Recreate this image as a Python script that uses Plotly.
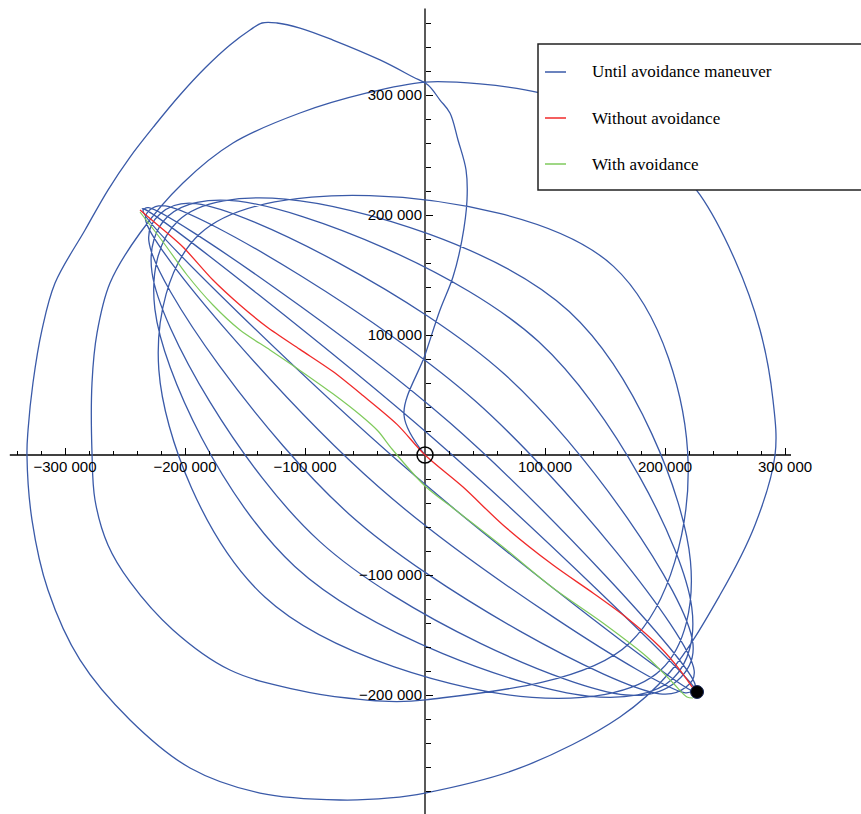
import plotly.graph_objects as go

# Relative trajectory (units as on the axes)
blue_x = [0, -17500, 0, 12500, 23300, 30800, 35000, 34200, 27500, 20800, 12500, 2500,
          -10000, -37500, -76700, -104200, -123300, -135800, -145800, -162500, -183300,
          -204200, -225000, -245800, -264200, -283300, -308300, -319200, -326700, -330800,
          -331700,
          -327500, -314200, -287500, -245800, -195800, -137500, -70800, -29200, 0, 79200,
          162500, 204200, 245800, 275000, 291700, 290000, 279200, 258300, 229200, 195800,
          145800, 95800, 45800, 0, -48300, -104200, -160000, -201700, -237500, -262500,
          -273300, -277500, -277500, -275000, -264200, -245800, -210000, -162500, -106700,
          -65000,
          500, 170400, 219300, 157100, -46100, -187800, -221800, -133500, 89200, 196700,
          221200, 120200, -116300, -205700, -225100, -108500, 136000, 206500, 222300, 94600,
          -155500, -214000, -227500, -87600, 167600, 210200, 223300, 66100, -191000, -220600,
          -230100, -63400, 195500, 217800, 224300, 41700, -216400, -229200, -232900, -39000,
          216100, 223100, 225200, 21000, -230300, -233900, -235000, -18900, 224300, 225500,
          225800, 6600, -234900, -235900]
blue_y = [0, 33300, 83300, 120800, 148300, 179200, 212500, 237500, 262500, 285000, 295800,
          308300, 315000, 329200, 345800, 355800, 360000, 360000, 354200, 341700, 322500,
          300000, 275000, 248300, 220800, 187500, 143300, 104200, 60000, 20800,
          0,
          -54200, -112500, -170800, -220800, -260800, -281700, -287500, -285800, -281700,
          -260800, -218300, -180800, -116700, -58300, 0, 45800, 104200, 162500, 216700,
          254200, 285000, 301700, 309200, 310800, 301700, 285000, 260000, 226700, 185000,
          143300, 101700, 60000, 1700, -37500, -75000, -105800, -145800, -179200, -195800,
          -202500,
          -204000, -156800, -7800, 157200, 216200, 184100, 70900, -118400, -202000, -179000,
          -88300, 119500, 213300, 195200, 121600, -92900, -200900, -186400, -127000, 94500,
          211500, 199100, 152100, -72200, -200000, -188100, -157400, 67500, 209500, 201000,
          178200, -49100, -199000, -193200, -179600, 45200, 207600, 204300, 196200, -26300,
          -198000, -196200, -191800, 26600, 206100, 205100, 203300, -8200, -197200, -196900,
          -196100, 14100, 205200, 204900]

red_x = [-237500, -220800, -201700, -176700, -154200, -131700, -104200, -76700, -51700,
         -23300, 0, 31700, 65000, 106700, 140000, 168300, 195800, 212500, 223300, 226700]
red_y = [204200, 190000, 173300, 145800, 125000, 106700, 88000, 69500, 49500, 25500, 0,
         -26700, -58300, -91700, -115000, -135800, -160000, -179200, -194200, -197500]

green_x = [-237500, -218300, -198300, -176700, -154200, -129200, -104200, -76700, -54200,
           -39200, -27500, 0, 23300, 65000, 106700, 148300, 185000, 206700, 218300, 223300]
green_y = [202500, 177500, 150000, 125000, 104200, 87500, 70500, 51000, 33500, 20000,
           5000, -25800, -44200, -76700, -110800, -140000, -168300, -190000, -201700, -202500]

start_point = (0, 0)
target_point = (226700, -197500)

series_names = ["Until avoidance maneuver", "Without avoidance", "With avoidance"]
series_colors = ["#3a5aa8", "#f02a2a", "#7fca5c"]

x_major = [-300000, -200000, -100000, 100000, 200000, 300000]
x_labels = ["\u2212300 000", "\u2212200 000", "\u2212100 000", "100 000", "200 000", "300 000"]
x_minor = [v for v in range(-340000, 300001, 20000) if v != 0 and v % 100000 != 0]
y_major = [-200000, -100000, 100000, 200000, 300000]
y_labels = ["\u2212200 000", "\u2212100 000", "100 000", "200 000", "300 000"]
y_minor = [v for v in range(-300000, 360001, 20000) if v != 0 and v % 100000 != 0]

W, H = 861, 814
X_RANGE = [-354167, 363333]
Y_RANGE = [-299167, 379167]

fig = go.Figure()
fig.add_trace(go.Scatter(x=blue_x, y=blue_y, mode="lines",
                         line=dict(color=series_colors[0], width=1.3, shape="spline", smoothing=1.0),
                         name=series_names[0], showlegend=False, hoverinfo="skip"))
fig.add_trace(go.Scatter(x=red_x, y=red_y, mode="lines",
                         line=dict(color=series_colors[1], width=1.3, shape="spline", smoothing=0.8),
                         name=series_names[1], showlegend=False, hoverinfo="skip"))
fig.add_trace(go.Scatter(x=green_x, y=green_y, mode="lines",
                         line=dict(color=series_colors[2], width=1.2, shape="spline", smoothing=0.8),
                         name=series_names[2], showlegend=False, hoverinfo="skip"))
fig.add_trace(go.Scatter(x=[start_point[0]], y=[start_point[1]], mode="markers",
                         marker=dict(symbol="circle-open", size=16, color="black",
                                     line=dict(width=1.5, color="black")),
                         showlegend=False, hoverinfo="skip"))
fig.add_trace(go.Scatter(x=[target_point[0]], y=[target_point[1]], mode="markers",
                         marker=dict(symbol="circle", size=13, color="black",
                                     line=dict(width=1, color="#1a2a5a")),
                         showlegend=False, hoverinfo="skip"))


def px_x(p):
    return p / W


def px_y(p):
    return 1 - p / H


x_pos = (0 - Y_RANGE[0]) / (Y_RANGE[1] - Y_RANGE[0])
y_pos = (0 - X_RANGE[0]) / (X_RANGE[1] - X_RANGE[0])
tick_font = dict(family="Liberation Sans, Arial, sans-serif", size=15, color="black")

fig.update_layout(
    width=W, height=H,
    margin=dict(l=0, r=0, t=0, b=0),
    paper_bgcolor="white", plot_bgcolor="white",
    xaxis=dict(range=X_RANGE, showgrid=False, zeroline=False, showline=False,
               anchor="free", position=x_pos, side="bottom",
               tickmode="array", tickvals=x_major, ticktext=x_labels,
               ticks="inside", ticklen=7, tickwidth=1, tickcolor="black",
               minor=dict(tickmode="array", tickvals=x_minor, ticks="inside",
                          ticklen=4, tickwidth=1, tickcolor="black"),
               tickfont=tick_font, ticklabelstandoff=1, fixedrange=True),
    yaxis=dict(range=Y_RANGE, showgrid=False, zeroline=False, showline=False,
               anchor="free", position=y_pos, side="left",
               tickmode="array", tickvals=y_major, ticktext=y_labels,
               ticks="inside", ticklen=7, tickwidth=1, tickcolor="black",
               minor=dict(tickmode="array", tickvals=y_minor, ticks="inside",
                          ticklen=5, tickwidth=1, tickcolor="black"),
               tickfont=tick_font, ticklabelstandoff=3, fixedrange=True),
)

# axis lines crossing at the origin
fig.add_shape(type="line", xref="x", yref="y", x0=-346000, x1=305000, y0=0, y1=0,
              line=dict(color="black", width=1.3), layer="below")
fig.add_shape(type="line", xref="x", yref="y", x0=0, x1=0, y0=-300000, y1=372000,
              line=dict(color="black", width=1.3), layer="below")

# legend box
fig.add_shape(type="rect", xref="paper", yref="paper",
              x0=px_x(538), x1=px_x(863), y0=px_y(190), y1=px_y(44),
              line=dict(color="#222222", width=1.5), fillcolor="white", layer="above")
legend_rows = [72, 118, 164]
for name, color, row in zip(series_names, series_colors, legend_rows):
    fig.add_shape(type="line", xref="paper", yref="paper",
                  x0=px_x(545), x1=px_x(566), y0=px_y(row), y1=px_y(row),
                  line=dict(color=color, width=1.5), layer="above")
    fig.add_annotation(x=px_x(590), y=px_y(row), xref="paper", yref="paper",
                       text=name, showarrow=False, xanchor="left", yanchor="middle",
                       font=dict(family="Liberation Serif, Times New Roman, serif",
                                 size=17, color="black"))

fig.write_html("out.html")
